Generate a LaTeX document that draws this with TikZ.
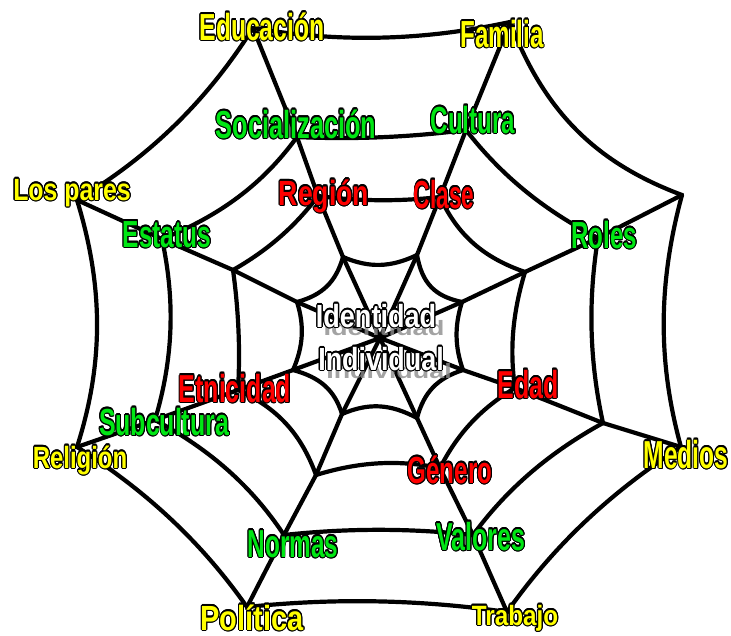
\documentclass[tikz,border=0pt]{standalone}
\usepackage{fontspec}
\setmainfont{Liberation Sans}
\usepackage{xcolor}
\usepackage{graphicx}
\usepackage{contour}
\usepackage{tikz}
\usetikzlibrary{calc}

\contourlength{1.4pt}
\definecolor{webyellow}{RGB}{255,255,0}
\definecolor{webgreen}{RGB}{0,230,20}
\definecolor{webred}{RGB}{255,0,0}

% label text: colour, size, horizontal squeeze, text
\newcommand{\wtxt}[4]{\scalebox{#3}[1]{\fontsize{#2}{#2}\selectfont\bfseries\textcolor{#1}{\contour{black}{#4}}}}
\newcommand{\wshadow}[2]{\scalebox{#1}[.65]{\fontsize{32}{32}\selectfont\bfseries #2}}

\begin{document}
\begin{tikzpicture}[x=1pt, y=-1pt,
    web/.style={line width=4.2pt, line join=round, line cap=round},
    lbl/.style={inner sep=0pt, anchor=base}]
                \useasboundingbox (0,0) rectangle (731,635);

                % Web corners
                \coordinate (c) at (380,338);
                \coordinate (a1) at (343,257); \coordinate (a2) at (417,255);
                \coordinate (a3) at (462,302); \coordinate (a4) at (463,370);
                \coordinate (a5) at (417,418); \coordinate (a6) at (342,414);
                \coordinate (a7) at (293,370); \coordinate (a8) at (297,302);
                \coordinate (b1) at (318,196); \coordinate (b2) at (440,197);
                \coordinate (b3) at (525,272); \coordinate (b4) at (515,388);
                \coordinate (b5) at (440,468); \coordinate (b6) at (316,475);
                \coordinate (b7) at (238,390); \coordinate (b8) at (233,270);
                \coordinate (m1) at (297,137); \coordinate (m2) at (466,130);
                \coordinate (m3) at (598,238); \coordinate (m4) at (603,423);
                \coordinate (m5) at (473,535); \coordinate (m6) at (284,535);
                \coordinate (m7) at (155,420); \coordinate (m8) at (162,239);
                \coordinate (o1) at (253,28); \coordinate (o2) at (510,22);
                \coordinate (o3) at (682,195); \coordinate (o4) at (681,447);
                \coordinate (o5) at (507,612); \coordinate (o6) at (247,607);
                \coordinate (o7) at (77,447); \coordinate (o8) at (77,200);

                % Spokes
                \foreach \i in {1,...,8}
                    \draw[web] (c) -- (a\i) -- (b\i) -- (m\i) -- (o\i);

                % Rings
                \foreach \p/\q/\d in {o1/o2/17pt, o2/o3/39pt, o3/o4/24pt, o4/o5/16pt,
                        o5/o6/11pt, o6/o7/16pt, o7/o8/27pt, o8/o1/20pt,
                        m1/m2/5pt, m2/m3/13pt, m3/m4/12pt, m4/m5/13pt,
                        m5/m6/7pt, m6/m7/15pt, m7/m8/16pt, m8/m1/17pt,
                        b1/b2/5pt, b2/b3/17pt, b3/b4/9pt, b4/b5/11pt,
                        b5/b6/11pt, b6/b7/17pt, b7/b8/4pt, b8/b1/8pt,
                        a1/a2/12pt, a2/a3/16pt, a3/a4/8pt, a4/a5/13pt,
                        a5/a6/13pt, a6/a7/13pt, a7/a8/9pt, a8/a1/13pt}
                    \draw[web] (\p) .. controls ($(\p)!.33!(\q)!\d!(c)$) and ($(\p)!.67!(\q)!\d!(c)$) .. (\q);

                % Centre
                \node[lbl, black!45, opacity=.8] (idshadow) at (384,335) {\wshadow{.85}{Identidad}};
                \node[lbl, black!45, opacity=.8] (indshadow) at (389,378) {\wshadow{.84}{Individual}};
                \node[lbl] (ident) at (376,327) {\wtxt{white}{32}{.845}{Identidad}};
                \node[lbl] (indiv) at (381,370) {\wtxt{white}{32}{.84}{Individual}};

                % Inner ring
                \node[lbl] (region) at (324,205) {\wtxt{webred}{35}{.76}{Región}};
                \node[lbl] (clase) at (444,208) {\wtxt{webred}{39}{.58}{Clase}};
                \node[lbl] (edad) at (528,398) {\wtxt{webred}{39}{.64}{Edad}};
                \node[lbl] (genero) at (450,483) {\wtxt{webred}{37.7}{.64}{Género}};
                \node[lbl] (etnia) at (235,402) {\wtxt{webred}{39}{.64}{Etnicidad}};

                % Middle ring
                \node[lbl] (social) at (296,138) {\wtxt{webgreen}{39}{.65}{Socialización}};
                \node[lbl] (cultura) at (473,133) {\wtxt{webgreen}{37.7}{.64}{Cultura}};
                \node[lbl] (roles) at (604,248) {\wtxt{webgreen}{37.7}{.64}{Roles}};
                \node[lbl] (estatus) at (167,247) {\wtxt{webgreen}{37.7}{.65}{Estatus}};
                \node[lbl] (subcult) at (164,435) {\wtxt{webgreen}{37.7}{.66}{Subcultura}};
                \node[lbl] (normas) at (293,557) {\wtxt{webgreen}{39}{.625}{Normas}};
                \node[lbl] (valores) at (481,550) {\wtxt{webgreen}{39}{.64}{Valores}};

                % Outer ring
                \node[lbl] (educ) at (262,40) {\wtxt{webyellow}{37.7}{.655}{Educación}};
                \node[lbl] (familia) at (502,47) {\wtxt{webyellow}{37.7}{.64}{Familia}};
                \node[lbl] (pares) at (72,200) {\wtxt{webyellow}{30.7}{.81}{Los pares}};
                \node[lbl] (religion) at (80,468) {\wtxt{webyellow}{30.7}{.78}{Religión}};
                \node[lbl] (politica) at (252,630) {\wtxt{webyellow}{34.9}{.83}{Política}};
                \node[lbl] (trabajo) at (515,625) {\wtxt{webyellow}{27.9}{.87}{Trabajo}};
                \node[lbl] (medios) at (686,468) {\wtxt{webyellow}{39}{.63}{Medios}};
            \end{tikzpicture}
\end{document}
